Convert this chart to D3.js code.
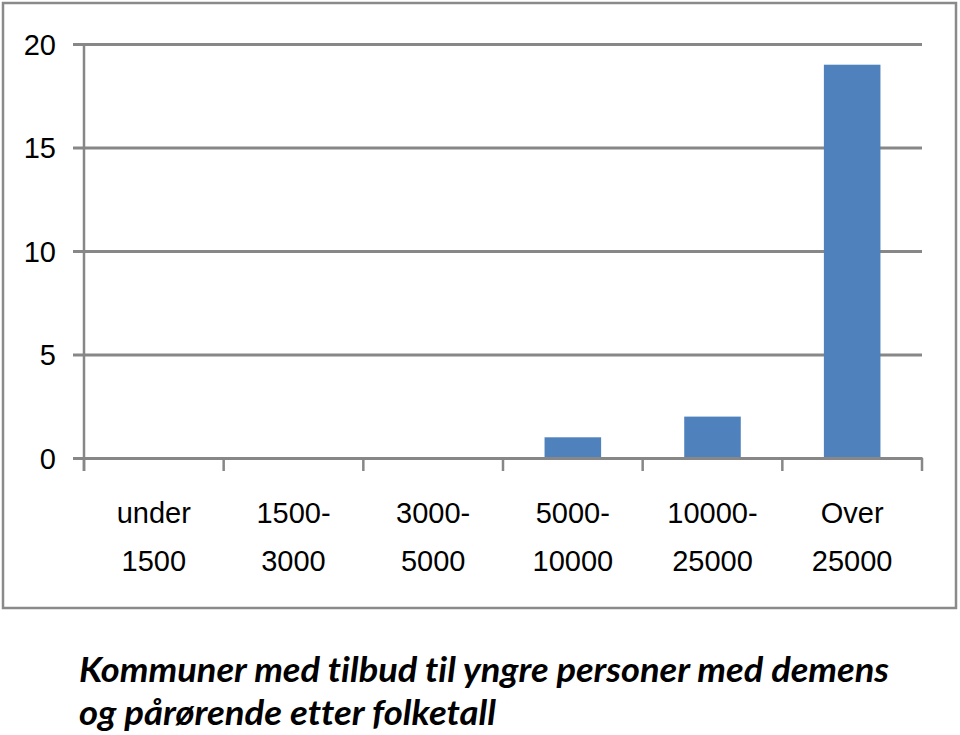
<!DOCTYPE html>
<html>
<head>
<meta charset="utf-8">
<script src="https://cdn.jsdelivr.net/npm/d3@7"></script>
<style>
  body { margin: 0; background: #fff; }
  svg { display: block; }
</style>
</head>
<body>
<div id="chart"></div>
<script>
// data
var categories = ["under 1500", "1500- 3000", "3000- 5000", "5000- 10000", "10000- 25000", "Over 25000"];
var labelLines = [["under", "1500"], ["1500-", "3000"], ["3000-", "5000"], ["5000-", "10000"], ["10000-", "25000"], ["Over", "25000"]];
var values = [0, 0, 0, 1, 2, 19];
var yTicks = [0, 5, 10, 15, 20];
var titleLines = ["Kommuner med tilbud til yngre personer med demens", "og pårørende etter folketall"];
var titleWidths = [810, 417];

var svgWidth = 960;
var svgHeight = 735;

var plot = { left: 84, right: 922, top: 44, bottom: 458 };

var svg = d3.select("#chart")
  .append("svg")
  .attr("width", svgWidth)
  .attr("height", svgHeight);

// chart frame
svg.append("rect")
  .attr("x", 3)
  .attr("y", 3)
  .attr("width", 953)
  .attr("height", 605)
  .attr("fill", "#fff")
  .attr("stroke", "#8a8a8a")
  .attr("stroke-width", 2.5);

var x = d3.scaleBand()
  .domain(categories)
  .range([plot.left, plot.right]);

var y = d3.scaleLinear()
  .domain([0, 20])
  .range([plot.bottom, plot.top]);

var tickFont = "'Liberation Sans', Arial, sans-serif";

// gridlines + y labels
var yAxis = d3.axisLeft(y)
  .tickValues(yTicks)
  .tickSize(-(plot.right - plot.left) - 11)
  .tickPadding(17)
  .tickFormat(d3.format("d"));

var yg = svg.append("g")
  .attr("transform", `translate(${plot.left - 11}, 0)`)
  .call(yAxis);

yg.select(".domain").remove();
yg.selectAll(".tick line")
  .attr("stroke", "#878787")
  .attr("stroke-width", 3);
yg.selectAll(".tick text")
  .attr("font-family", tickFont)
  .attr("font-size", 29)
  .attr("fill", "#000")
  .attr("dy", "0.36em");

// y axis line
svg.append("line")
  .attr("x1", plot.left)
  .attr("x2", plot.left)
  .attr("y1", plot.top)
  .attr("y2", plot.bottom + 13)
  .attr("stroke", "#878787")
  .attr("stroke-width", 2.5);

// bars
var barWidth = x.bandwidth() * 0.405;
svg.append("g")
  .selectAll("rect")
  .data(values)
  .enter()
  .append("rect")
  .attr("x", (d, i) => x(categories[i]) + (x.bandwidth() - barWidth) / 2)
  .attr("y", d => y(d))
  .attr("width", barWidth)
  .attr("height", d => y(0) - y(d))
  .attr("fill", "#4f81bd");

// x axis
var xAxis = d3.axisBottom(x)
  .tickSize(0)
  .tickFormat("");

var xg = svg.append("g")
  .attr("transform", `translate(0, ${plot.bottom})`)
  .call(xAxis);

xg.select(".domain")
  .attr("stroke", "#878787")
  .attr("stroke-width", 3);

// category boundary ticks
var bounds = categories.map(c => x(c)).concat([plot.right]);
xg.selectAll(".bound")
  .data(bounds)
  .enter()
  .append("line")
  .attr("x1", d => d)
  .attr("x2", d => d)
  .attr("y1", 0)
  .attr("y2", 13)
  .attr("stroke", "#878787")
  .attr("stroke-width", 2.5);

// two-line category labels
var labels = svg.append("g")
  .selectAll("text")
  .data(labelLines)
  .enter()
  .append("text")
  .attr("text-anchor", "middle")
  .attr("font-family", tickFont)
  .attr("font-size", 29)
  .attr("fill", "#000");

labels.each(function(lines, i) {
  var cx = x(categories[i]) + x.bandwidth() / 2;
  d3.select(this).selectAll("tspan")
    .data(lines)
    .enter()
    .append("tspan")
    .attr("x", cx)
    .attr("y", (d, j) => 523 + j * 48)
    .text(d => d);
});

// title below the chart
svg.append("g")
  .selectAll("text")
  .data(titleLines)
  .enter()
  .append("text")
  .attr("x", 79)
  .attr("y", (d, i) => 682 + i * 43)
  .attr("font-family", "Lato, 'Open Sans', sans-serif")
  .attr("font-weight", "bold")
  .attr("font-style", "italic")
  .attr("font-size", 34)
  .style("font-variant-ligatures", "none")
  .attr("textLength", (d, i) => titleWidths[i])
  .attr("lengthAdjust", "spacingAndGlyphs")
  .attr("fill", "#000")
  .text(d => d);
</script>
</body>
</html>
